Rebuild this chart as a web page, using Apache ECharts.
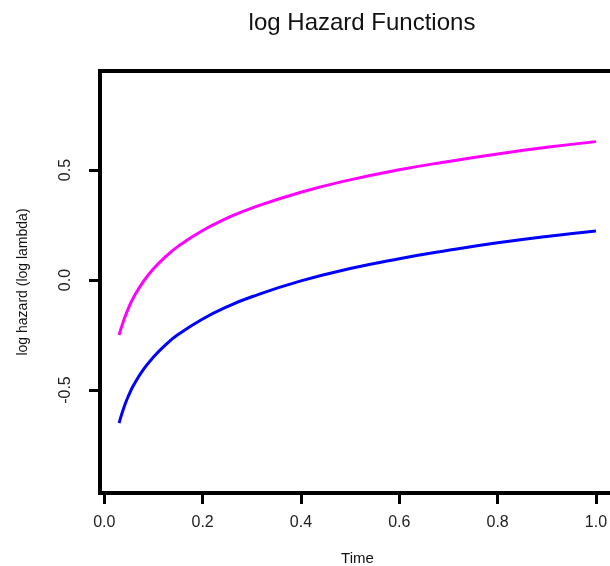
<!DOCTYPE html>
<html>
<head>
<meta charset="utf-8">
<script src="https://cdn.jsdelivr.net/npm/echarts@6/dist/echarts.min.js"></script>
<style>html,body{margin:0;padding:0;background:#fff;}#c{width:610px;height:566px;}</style>
</head>
<body>
<div id="c"></div>
<script>
const times = [0.03, 0.04, 0.05, 0.06, 0.08, 0.10, 0.125, 0.15, 0.20, 0.25, 0.30, 0.40, 0.50, 0.60, 0.70, 0.80, 0.90, 1.00];
const magentaVals = [-0.25, -0.18, -0.123, -0.077, -0.005, 0.051, 0.107, 0.153, 0.225, 0.281, 0.327, 0.399, 0.455, 0.501, 0.539, 0.573, 0.603, 0.629];
const blueVals = [-0.65, -0.578, -0.522, -0.476, -0.405, -0.35, -0.294, -0.248, -0.177, -0.121, -0.076, -0.004, 0.052, 0.097, 0.135, 0.169, 0.198, 0.223];
const xTicks = [0.0, 0.2, 0.4, 0.6, 0.8, 1.0];
const yTicks = [-0.5, 0.0, 0.5];

const font = '"Liberation Sans", Arial, sans-serif';
const chart = echarts.init(document.getElementById('c'));
chart.setOption({
  animation: false,
  backgroundColor: '#fff',
  title: {
    text: 'log Hazard Functions',
    left: 357, top: 6, textAlign: 'center',
    textStyle: { fontFamily: font, fontSize: 24, fontWeight: 'normal', color: '#111' }
  },
  grid: { left: 100, top: 71, right: -5, bottom: 73, outerBoundsMode: 'none', containLabel: false, show: true, borderColor: '#000', borderWidth: 4, backgroundColor: 'transparent' },
  xAxis: {
    type: 'value', min: -0.0088, max: 1.0388,
    name: 'Time', nameLocation: 'middle', nameGap: 58,
    nameTextStyle: { fontFamily: font, fontSize: 15, color: '#111' },
    axisLine: { show: true, onZero: false, lineStyle: { color: '#000', width: 4 } },
    axisTick: { show: true, inside: false, length: 11, lineStyle: { color: '#000', width: 3 }, customValues: xTicks },
    axisLabel: { show: true, margin: 22, fontFamily: font, fontSize: 16, color: '#222', customValues: xTicks, formatter: v => v.toFixed(1) },
    splitLine: { show: false }
  },
  yAxis: {
    type: 'value', min: -0.968, max: 0.95,
    name: 'log hazard (log lambda)', nameLocation: 'middle', nameGap: 70, nameRotate: 90,
    nameTextStyle: { fontFamily: font, fontSize: 14, color: '#111' },
    axisLine: { show: true, onZero: false, lineStyle: { color: '#000', width: 4 } },
    axisTick: { show: true, inside: false, length: 11, lineStyle: { color: '#000', width: 3 }, customValues: yTicks },
    axisLabel: { show: true, rotate: 90, margin: 26, fontFamily: font, fontSize: 16, color: '#222', customValues: yTicks, formatter: v => v.toFixed(1), align: 'center', verticalAlign: 'bottom' },
    splitLine: { show: false }
  },
  series: [
    { type: 'line', data: times.map((t, i) => [t, magentaVals[i]]), smooth: true, showSymbol: false, lineStyle: { color: '#ff00ff', width: 3 } },
    { type: 'line', data: times.map((t, i) => [t, blueVals[i]]), smooth: true, showSymbol: false, lineStyle: { color: '#0000ff', width: 3 } }
  ]
});
</script>
</body>
</html>
